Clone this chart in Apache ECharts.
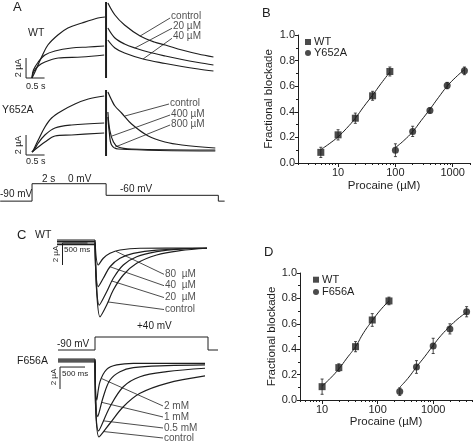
<!DOCTYPE html>
<html><head><meta charset="utf-8">
<script src="https://cdn.jsdelivr.net/npm/echarts@6/dist/echarts.min.js"></script>
<style>html,body{margin:0;padding:0;background:#fff}#c{width:474px;height:446px}</style>
</head><body><div id="c"></div>
<script>
// ===== Panel A: currents (time in s, current in µA) =====
const aWT_control = [[0,0],[0.08,0.6],[0.26,2.1],[0.43,3.3],[0.70,4.3],[0.97,5.0],[1.35,5.5],[1.78,6.0],[1.97,6.1],[2.05,7.5],[2.24,6.3],[2.5,5.3],[2.92,4.2],[3.3,3.6],[3.6,3.3],[4.05,2.8],[4.49,2.4],[4.9,2.1]];
const aWT_20 = [[0,0],[0.04,0.8],[0.17,1.6],[0.35,2.3],[0.62,2.7],[1.07,3.0],[1.52,3.1],[1.95,3.2],[2.05,5.0],[2.24,4.0],[2.5,3.4],[2.78,3.0],[3.14,2.6],[3.6,2.2],[4.05,1.85],[4.49,1.55],[4.9,1.3]];
const aWT_40 = [[0,0],[0.04,0.6],[0.17,1.2],[0.35,1.6],[0.71,2.0],[1.34,2.1],[1.95,2.3],[2.05,3.8],[2.24,3.0],[2.5,2.5],[3.0,1.9],[3.6,1.45],[4.05,1.15],[4.49,0.9],[4.9,0.7]];
const aWT_transient = [[2.0,0],[2.0,7.6]];
const aWT_labels = ['control','20 µM','40 µM'];

const aY_control = [[0,0],[0.04,0.2],[0.17,1.2],[0.35,2.5],[0.53,3.4],[0.80,4.1],[1.16,4.8],[1.52,5.3],[1.95,5.6],[2.05,6.0],[2.15,5.2],[2.24,4.6],[2.42,3.9],[2.69,2.8],[3.14,1.6],[3.59,1.0],[4.05,0.7],[4.95,0.4]];
const aY_400 = [[0,0],[0.04,0.1],[0.17,0.9],[0.35,1.7],[0.62,2.4],[1.07,2.7],[1.95,2.9],[2.05,4.0],[2.1,2.2],[2.2,1.0],[2.33,0.5],[2.69,0.3],[4.95,0.2]];
const aY_800 = [[0,0],[0.17,0.5],[0.35,1.0],[0.62,1.6],[1.07,1.7],[1.95,1.9],[2.05,3.5],[2.09,1.9],[2.15,0.7],[2.33,0.3],[4.95,0.1]];
const aY_transient = [[2.0,-0.4],[2.0,6.2]];
const aY_labels = ['control','400 µM','800 µM'];

// voltage protocol A (s, mV)
const protoA_t = [-0.86, 0, 0, 2.0, 2.0, 5.03, 5.03, 5.2];
const protoA_v = [-90, -90, 0, 0, -60, -60, -90, -90];

// ===== Panel C: currents (time in ms, current in µA) =====
const cWT_80 = [[-760,0.18],[0,0.18],[66,-2.09],[166,-1.48],[300,-1.03],[500,-0.73],[900,-0.57],[2240,-0.55]];
const cWT_40 = [[-760,0.05],[0,0.05],[66,-4.06],[166,-3.3],[300,-2.25],[500,-1.48],[766,-1.03],[1234,-0.73],[2240,-0.57]];
const cWT_20 = [[-760,-0.09],[0,-0.09],[86,-5.73],[234,-4.52],[366,-3.3],[566,-2.09],[834,-1.34],[1234,-0.88],[1700,-0.64],[2240,-0.57]];
const cWT_control = [[-760,-0.23],[0,-0.23],[100,-6.8],[234,-5.73],[366,-4.36],[566,-3.0],[834,-1.94],[1234,-1.18],[1700,-0.79],[2240,-0.57]];
const cWT_labels = ['80  µM','40  µM','20  µM','control'];

const cF_2mM = [[-740,0.09],[0,0.09],[34,-3.64],[100,-1.97],[234,-0.85],[434,-0.45],[766,-0.3],[1434,-0.3],[2200,-0.3]];
const cF_1mM = [[-740,0],[0,0],[54,-5.15],[166,-3.34],[300,-1.82],[500,-1.06],[766,-0.7],[1434,-0.52],[2200,-0.45]];
const cF_05mM = [[-740,-0.09],[0,-0.09],[70,-6.45],[300,-4.25],[566,-2.43],[900,-1.52],[1434,-1.06],[2200,-0.75]];
const cF_control = [[-740,-0.18],[0,-0.18],[80,-7.0],[300,-5.75],[566,-4.25],[900,-3.03],[1434,-2.12],[2200,-1.45]];
const cF_labels = ['2 mM','1 mM','0.5 mM','control'];

// voltage protocol C (ms, mV)
const protoC_t = [-740, 0, 0, 2260, 2260, 2460];
const protoC_v = [-90, -90, 40, 40, -90, -90];

// ===== Panel B: dose-response =====
const bConcWT = [5, 10, 20, 40, 80];
const bBlockWT = [0.083, 0.22, 0.35, 0.525, 0.715];
const bErrWT = [0.04, 0.04, 0.04, 0.035, 0.035];
const bConcY = [100, 200, 400, 800, 1600];
const bBlockY = [0.10, 0.247, 0.41, 0.605, 0.72];
const bErrY = [0.05, 0.04, 0.02, 0.025, 0.03];
const bFitWT_x = [5, 7, 10, 14, 20, 28, 40, 56, 80];
const bFitWT_y = [0.105, 0.15, 0.205, 0.27, 0.35, 0.44, 0.53, 0.62, 0.71];
const bFitY_x = [100, 140, 200, 280, 400, 560, 800, 1130, 1600];
const bFitY_y = [0.12, 0.175, 0.245, 0.33, 0.42, 0.51, 0.60, 0.67, 0.73];

// ===== Panel D: dose-response =====
const dConcWT = [10, 20, 40, 80, 160];
const dBlockWT = [0.105, 0.255, 0.42, 0.63, 0.78];
const dErrWT = [0.06, 0.03, 0.04, 0.05, 0.03];
const dConcF = [250, 500, 1000, 2000, 4000];
const dBlockF = [0.066, 0.26, 0.426, 0.56, 0.695];
const dErrF = [0.03, 0.05, 0.06, 0.04, 0.04];
const dFitWT_x = [10, 14, 20, 28, 40, 56, 80, 113, 160];
const dFitWT_y = [0.11, 0.17, 0.245, 0.33, 0.42, 0.53, 0.625, 0.71, 0.78];
const dFitF_x = [250, 350, 500, 700, 1000, 1400, 2000, 2800, 4000];
const dFitF_y = [0.10, 0.17, 0.26, 0.34, 0.43, 0.51, 0.58, 0.64, 0.69];

const xMajorB = [10, 100, 1000];
const xMinorB = [2,3,4,5,6,7,8,9,20,30,40,50,60,70,80,90,200,300,400,500,600,700,800,900,2000];
const xMajorD = [10, 100, 1000];
const xMinorD = [4,5,6,7,8,9,20,30,40,50,60,70,80,90,200,300,400,500,600,700,800,900,2000,3000,4000,5000];

// ===== annotation anchors (data space): [point on trace, label end] =====
const aWT_lead = [[[2.92,4.2],[3.73,6.0]], [[2.78,3.0],[3.78,4.97]], [[3.0,1.9],[3.78,3.97]]];
const aY_lead = [[[2.51,3.6],[3.7,4.8]], [[2.16,1.6],[3.73,3.7]], [[2.25,0.5],[3.73,2.7]]];
const cWT_lead = [[[420,-0.85],[1380,-2.94]], [[300,-2.25],[1380,-3.97]], [[340,-3.55],[1380,-5.05]], [[260,-5.45],[1380,-6.14]]];
const cF_lead = [[[134,-1.69],[1360,-4.18]], [[134,-3.85],[1360,-5.18]], [[166,-5.53],[1360,-6.18]], [[166,-6.5],[1360,-7.09]]];

const FONT = '"Liberation Sans", Arial, sans-serif';
const INK = '#1e1e1e';

const grids = [
  {left:19, top:0, width:200, height:85},        // 0 A WT
  {left:19, top:80, width:200, height:85},       // 1 A Y652A
  {left:0, top:175, width:230, height:30},       // 2 A protocol
  {left:40, top:227.7, width:180, height:92.4},  // 3 C WT
  {left:40, top:330, width:180, height:25},      // 4 C protocol
  {left:40, top:350.1, width:180, height:95.7},  // 5 C F656A
  {left:298, top:35, width:172, height:128},     // 6 B
  {left:300, top:273, width:172, height:127}     // 7 D
].map(g => Object.assign({outerBoundsMode:'none', containLabel:false}, g));

function hid(gi, min, max) { return {type:'value', gridIndex:gi, min, max, show:false}; }
const xAxes = [
  hid(0,-0.35,5.05), hid(1,-0.35,5.05), hid(2,-0.865,5.345),
  hid(3,-1100,2500), hid(4,-1100,2500), hid(5,-1100,2500)
];
const yAxes = [
  hid(0,-0.7,7.8), hid(1,-1.3,7.2), hid(2,-110,45),
  hid(3,-7.1,1.3), hid(4,-140,110), hid(5,-7.8,0.9)
];
const lblStyle = {color:INK, fontSize:11, fontFamily:FONT};
function logAxes(gi, min, max, majors, minors, gap) {
  return [
    {type:'log', logBase:10, gridIndex:gi, min, max, position:'bottom',
     axisLine:{show:true, lineStyle:{color:INK, width:1}},
     axisTick:{show:true, customValues:majors, length:4, lineStyle:{color:INK}},
     axisLabel:{show:true, customValues:majors, margin:4, formatter:v => String(Math.round(v)), ...lblStyle},
     splitLine:{show:false}, minorTick:{show:false},
     name:'Procaine (µM)', nameLocation:'middle', nameGap:gap,
     nameTextStyle:{color:INK, fontSize:11.5, fontFamily:FONT}},
    {type:'log', logBase:10, gridIndex:gi, min, max, position:'bottom',
     axisLine:{show:false}, axisLabel:{show:false}, splitLine:{show:false},
     axisTick:{show:true, customValues:minors, length:2, lineStyle:{color:INK}}}
  ];
}
function fracAxis(gi, gap) {
  return {type:'value', gridIndex:gi, min:0, max:1, interval:0.2,
    axisLine:{show:true, lineStyle:{color:INK}},
    axisTick:{show:true, length:3, lineStyle:{color:INK}},
    minorTick:{show:true, splitNumber:2, length:2, lineStyle:{color:INK}},
    axisLabel:{formatter:v => v.toFixed(1), margin:3, ...lblStyle},
    splitLine:{show:false},
    name:'Fractional blockade', nameLocation:'middle', nameGap:gap,
    nameTextStyle:{color:INK, fontSize:11.5, fontFamily:FONT}};
}
xAxes.push(...logAxes(6, 2, 2000, xMajorB, xMinorB, 17));   // 6,7
xAxes.push(...logAxes(7, 4, 5000, xMajorD, xMinorD, 15));   // 8,9
yAxes.push(fracAxis(6, 23), fracAxis(7, 18));               // 6,7

const series = [];
function line(data, xi, yi, opts) {
  series.push(Object.assign({type:'line', data, xAxisIndex:xi, yAxisIndex:yi,
    showSymbol:false, symbol:'none', silent:true, animation:false,
    lineStyle:{color:INK, width:1}}, opts || {}));
}
function trace(data, xi, yi, split, w) {
  const a = data.filter(p => p[0] <= split), b = data.filter(p => p[0] >= split);
  const ls = {color:INK, width:w || 1.2};
  if (a.length > 1) line(a, xi, yi, {smooth: split === 0 ? false : 0.35, lineStyle:ls});
  if (b.length > 1) line(b, xi, yi, {smooth:0.35, lineStyle:ls});
}
function leaders(list, names, xi, yi, offY) {
  list.forEach((seg, i) => {
    line(seg, xi, yi, {lineStyle:{color:INK, width:0.8}});
    series.push({type:'scatter', xAxisIndex:xi, yAxisIndex:yi, symbolSize:0, silent:true,
      data:[{value:seg[1], label:{formatter:names[i]}}],
      label:{show:true, position:'right', distance:1, offset:[0, offY], color:INK, fontSize:10, fontFamily:FONT}});
  });
}

// Panel A traces
[aWT_control, aWT_20, aWT_40].forEach(d => trace(d, 0, 0, 2.0));
line(aWT_transient, 0, 0, {lineStyle:{color:INK, width:2}});
leaders(aWT_lead, aWT_labels, 0, 0, -2);
line([[-0.16,2],[-0.16,0],[0.34,0]], 0, 0);  // scale bar 2 µA / 0.5 s

[aY_control, aY_400, aY_800].forEach(d => trace(d, 1, 1, 2.0));
line(aY_transient, 1, 1, {lineStyle:{color:INK, width:2}});
leaders(aY_lead, aY_labels, 1, 1, -1);
line([[-0.16,1.7],[-0.16,-0.3],[0.34,-0.3]], 1, 1);

line(protoA_t.map((t,i) => [t, protoA_v[i]]), 2, 2);

// Panel C traces
[cWT_80, cWT_40, cWT_20, cWT_control].forEach(d => trace(d, 3, 3, 0));
leaders(cWT_lead, cWT_labels, 3, 3, 0);
line([[-650,-2.09],[-650,-0.09],[-150,-0.09]], 3, 3);

line(protoC_t.map((t,i) => [t, protoC_v[i]]), 4, 4);

[cF_2mM, cF_1mM, cF_05mM, cF_control].forEach(d => trace(d, 5, 5, 0));
leaders(cF_lead, cF_labels, 5, 5, 0);
line([[-700,-2.64],[-700,-0.64],[-200,-0.64]], 5, 5);

// Dose-response plots
function errBars(xs, ys, es, xi, yi) {
  series.push({type:'custom', xAxisIndex:xi, yAxisIndex:yi, silent:true,
    data: xs.map((x,i) => [x, ys[i], es[i]]),
    renderItem: (params, api) => {
      const x = api.value(0), y = api.value(1), e = api.value(2);
      const t = api.coord([x, y + e]), b = api.coord([x, y - e]);
      const st = {stroke:INK, lineWidth:0.8};
      return {type:'group', children:[
        {type:'line', shape:{x1:t[0], y1:t[1], x2:b[0], y2:b[1]}, style:st},
        {type:'line', shape:{x1:t[0]-1.5, y1:t[1], x2:t[0]+1.5, y2:t[1]}, style:st},
        {type:'line', shape:{x1:b[0]-1.5, y1:b[1], x2:b[0]+1.5, y2:b[1]}, style:st}
      ]};
    }});
}
function pts(name, xs, ys, xi, yi, sym) {
  series.push({type:'scatter', name, xAxisIndex:xi, yAxisIndex:yi, symbol:sym, symbolSize:7,
    itemStyle:{color:INK}, data: xs.map((x,i) => [x, ys[i]]), z:5});
}
function fit(xs, ys, xi, yi) {
  line(xs.map((x,i) => [x, ys[i]]), xi, yi, {smooth:0.5, lineStyle:{color:INK, width:1}});
}
fit(bFitWT_x, bFitWT_y, 6, 6); fit(bFitY_x, bFitY_y, 6, 6);
errBars(bConcWT, bBlockWT, bErrWT, 6, 6); errBars(bConcY, bBlockY, bErrY, 6, 6);
pts('WT', bConcWT, bBlockWT, 6, 6, 'rect'); pts('Y652A', bConcY, bBlockY, 6, 6, 'circle');

fit(dFitWT_x, dFitWT_y, 8, 7); fit(dFitF_x, dFitF_y, 8, 7);
errBars(dConcWT, dBlockWT, dErrWT, 8, 7); errBars(dConcF, dBlockF, dErrF, 8, 7);
pts('WT', dConcWT, dBlockWT, 8, 7, 'rect'); pts('F656A', dConcF, dBlockF, 8, 7, 'circle');

function txt(s, x, y, size, extra) {
  return Object.assign({type:'text', x, y, silent:true,
    style:{text:s, fill:INK, font:size + 'px ' + FONT, align:'left', verticalAlign:'middle'}}, extra || {});
}
function vtxt(s, x, y, size) {
  return {type:'text', x, y, rotation:Math.PI/2, silent:true,
    style:{text:s, fill:INK, font:size + 'px ' + FONT, align:'center', verticalAlign:'middle'}};
}
const graphic = [
  txt('A', 13, 7, 13), txt('B', 262, 13, 13), txt('C', 17, 235, 13), txt('D', 264, 252, 13),
  txt('WT', 28, 33, 10.5), txt('Y652A', 2, 110, 10.5),
  vtxt('2 µA', 19, 68, 9), txt('0.5 s', 26, 87, 9),
  vtxt('2 µA', 19, 145, 9), txt('0.5 s', 26, 162, 9),
  txt('2 s', 42, 179, 10), txt('0 mV', 68, 179, 10), txt('-90 mV', 0, 194, 10), txt('-60 mV', 120, 189, 10),
  txt('WT', 35, 235, 10.5),
  vtxt('2 µA', 56, 254, 8), txt('500 ms', 64, 250, 8),
  txt('+40 mV', 137, 326, 10), txt('-90 mV', 57, 344, 10),
  txt('F656A', 17, 361, 10.5),
  vtxt('2 µA', 54, 377, 8), txt('500 ms', 62, 374, 8)
];

const legendCommon = {orient:'vertical', itemWidth:6, itemHeight:6, itemGap:0, padding:0,
  textStyle:{color:INK, fontSize:11, fontFamily:FONT, padding:[0,0,0,-2]}, selectedMode:false};
const legends = [
  Object.assign({}, legendCommon, {left:305, top:36.5, data:[{name:'WT', icon:'rect'},{name:'Y652A', icon:'circle'}], textStyle:Object.assign({}, legendCommon.textStyle, {lineHeight:11})}),
  Object.assign({}, legendCommon, {left:313, top:273.5, data:[{name:'WT', icon:'rect'},{name:'F656A', icon:'circle'}], textStyle:Object.assign({}, legendCommon.textStyle, {lineHeight:12.4})})
];

const chart = echarts.init(document.getElementById('c'), null, {renderer:'canvas'});
chart.setOption({
  animation:false, backgroundColor:'#fff', textStyle:{fontFamily:FONT},
  grid:grids, xAxis:xAxes, yAxis:yAxes, legend:legends, series, graphic
});
</script></body></html>
